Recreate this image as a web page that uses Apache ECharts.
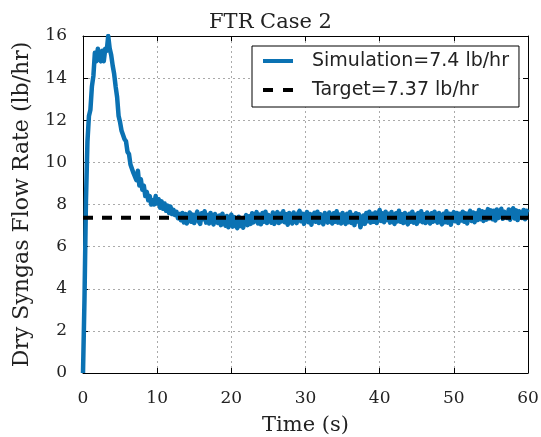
<!DOCTYPE html>
<html>
<head>
<meta charset="utf-8">
<script src="https://cdn.jsdelivr.net/npm/echarts@6/dist/echarts.min.js"></script>
<style>html,body{margin:0;padding:0;background:#fff;}#c{width:541px;height:437px;}</style>
</head>
<body>
<div id="c"></div>
<script>
// Sampling step of the simulation trace (seconds)
var timeStep = 0.2;
// Simulation values, t = 0 .. 13.0 s (transient)
var simTransient = [
  0,3.5,8.2,11.0,12.2,12.5,13.6,14.1,15.2,14.8,
  15.4,14.9,14.8,15.3,14.8,15.4,15.3,16.0,15.4,15.1,
  14.6,14.2,13.6,13.1,12.2,11.9,11.5,11.5,11.1,11.0,
  10.5,10.4,9.9,9.9,9.5,9.5,9.15,9.6,8.9,9.2,
  8.7,8.9,8.4,8.6,8.2,8.4,8.0,8.2,8.0,8.4,
  8.05,8.25,7.85,8.15,7.8,8.05,7.7,7.95,7.6,7.9,
  7.55,7.75,7.5,7.65,7.35,7.55
];
// Simulation values, t = 13.2 .. 60 s (steady state)
var simSteady = [
  7.25,7.60,7.15,7.55,7.10,7.48,7.62,7.18,7.52,7.12,
  7.45,7.66,7.20,7.08,7.58,7.30,7.68,7.14,7.50,7.10,
  7.60,7.22,7.05,7.55,7.64,7.12,7.48,7.02,7.56,7.20,
  7.00,7.45,6.92,7.30,7.52,6.95,7.40,7.05,6.88,7.42,
  6.98,7.35,6.90,7.28,7.50,7.02,7.44,7.08,7.58,7.15,
  7.48,7.64,7.10,7.52,7.06,7.60,7.18,7.66,7.12,7.50,
  7.58,7.14,7.62,7.08,7.46,7.64,7.12,7.56,7.20,7.68,
  7.16,7.54,7.04,7.60,7.22,7.10,7.62,7.26,7.12,7.58,
  7.70,7.20,7.56,7.08,7.50,7.64,7.16,7.55,7.04,7.48,
  7.60,7.18,7.66,7.12,7.54,7.24,7.06,7.60,7.28,7.14,
  7.62,7.22,7.10,7.58,7.18,7.68,7.14,7.52,7.10,7.60,
  7.24,7.08,7.56,7.16,7.64,7.12,7.50,7.02,7.58,7.20,
  7.54,6.92,7.16,7.48,7.08,7.60,7.20,7.66,7.14,7.56,
  7.18,7.62,7.12,7.52,7.74,7.22,7.58,7.16,7.66,7.26,
  7.56,7.14,7.64,7.24,7.08,7.58,7.20,7.70,7.18,7.54,
  7.12,7.60,7.22,7.06,7.56,7.18,7.66,7.14,7.52,7.08,
  7.60,7.20,7.68,7.16,7.54,7.12,7.62,7.24,7.10,7.58,
  7.18,7.66,7.26,7.14,7.60,7.22,7.06,7.56,7.16,7.68,
  7.14,7.56,7.04,7.52,7.64,7.20,7.60,7.12,7.56,7.24,
  7.66,7.18,7.58,7.10,7.54,7.70,7.22,7.62,7.16,7.58,
  7.26,7.74,7.30,7.68,7.22,7.64,7.28,7.78,7.34,7.72,
  7.30,7.70,7.24,7.76,7.36,7.28,7.80,7.32,7.66,7.74,
  7.36,7.76,7.28,7.70,7.82,7.34,7.72,7.26,7.68,7.76,
  7.36,7.74,7.30,7.70,7.62
];
var targetValue = 7.37;
var targetRange = [0, 60];
var xTicks = [0, 10, 20, 30, 40, 50, 60];
var yTicks = [0, 2, 4, 6, 8, 10, 12, 14, 16];
var seriesNames = ['Simulation=7.4 lb/hr', 'Target=7.37 lb/hr'];

var simValues = simTransient.concat(simSteady);
var simData = simValues.map(function (v, i) { return [+(i * timeStep).toFixed(2), v]; });
var targetData = targetRange.map(function (t) { return [t, targetValue]; });

var serif = 'DejaVu Serif';
var blue = '#0b72b3';
var chart = echarts.init(document.getElementById('c'), null, {renderer: 'canvas'});
var gridLine = {show: true, lineStyle: {color: '#aaaaaa', width: 1, type: [2, 3]}};
var option = {
  animation: false,
  backgroundColor: '#ffffff',
  title: {
    text: 'FTR Case 2', left: 'center', top: 7,
    textStyle: {fontFamily: serif, fontSize: 21, fontWeight: 'normal', color: '#222'}
  },
  legend: {
    left: 252, top: 46,
    orient: 'vertical',
    padding: [5, 10, 7, 11],
    borderColor: '#000', borderWidth: 1, backgroundColor: '#fff',
    itemWidth: 30, itemHeight: 4, itemGap: 9,
    textStyle: {fontFamily: 'DejaVu Sans', fontSize: 19, lineHeight: 20, color: '#222', padding: [0, 0, 0, 14]},
    data: [
      {name: seriesNames[0], icon: 'rect', itemStyle: {color: blue}},
      {name: seriesNames[1], icon: 'path://M0,0H10V4H0Z M20,0H30V4H20Z', itemStyle: {color: '#000'}}
    ]
  },
  grid: {left: 83, right: 13, top: 36, bottom: 64, containLabel: false, outerBoundsMode: 'none'},
  xAxis: [{
    type: 'value', min: 0, max: 60, interval: 10,
    name: 'Time (s)', nameLocation: 'middle', nameGap: 42,
    nameTextStyle: {fontFamily: serif, fontSize: 21, color: '#222'},
    axisLine: {show: true, onZero: false, lineStyle: {color: '#000', width: 1}},
    axisTick: {show: true, inside: true, length: 5, lineStyle: {color: '#000'}},
    axisLabel: {fontFamily: serif, fontSize: 17, color: '#222', margin: 17,
      formatter: function (v) { return xTicks.indexOf(v) >= 0 ? String(v) : ''; }},
    splitLine: gridLine
  }, {
    type: 'value', min: 0, max: 60, interval: 10, position: 'top',
    axisLine: {show: true, onZero: false, lineStyle: {color: '#000', width: 1}},
    axisTick: {show: true, inside: true, length: 5, lineStyle: {color: '#000'}},
    axisLabel: {show: false}, splitLine: {show: false}
  }],
  yAxis: [{
    type: 'value', min: 0, max: 16, interval: 2,
    name: 'Dry Syngas Flow Rate (lb/hr)', nameLocation: 'middle', nameGap: 50,
    nameTextStyle: {fontFamily: serif, fontSize: 22, color: '#222'},
    axisLine: {show: true, onZero: false, lineStyle: {color: '#000', width: 1}},
    axisTick: {show: true, inside: true, length: 5, lineStyle: {color: '#000'}},
    axisLabel: {fontFamily: serif, fontSize: 17, color: '#222', margin: 16,
      formatter: function (v) { return yTicks.indexOf(v) >= 0 ? String(v) : ''; }},
    splitLine: gridLine
  }, {
    type: 'value', min: 0, max: 16, interval: 2, position: 'right',
    axisLine: {show: true, onZero: false, lineStyle: {color: '#000', width: 1}},
    axisTick: {show: true, inside: true, length: 5, lineStyle: {color: '#000'}},
    axisLabel: {show: false}, splitLine: {show: false}
  }],
  series: [{
    name: seriesNames[0], type: 'line', data: simData,
    showSymbol: false, symbol: 'none', clip: true,
    lineStyle: {color: blue, width: 4.5, join: 'round'},
    itemStyle: {color: blue}, z: 2
  }, {
    name: seriesNames[1], type: 'line', data: targetData,
    showSymbol: false, symbol: 'none',
    lineStyle: {color: '#000', width: 4, type: [10, 9]},
    itemStyle: {color: '#000'}, z: 3
  }]
};
chart.setOption(option);
</script>
</body>
</html>
